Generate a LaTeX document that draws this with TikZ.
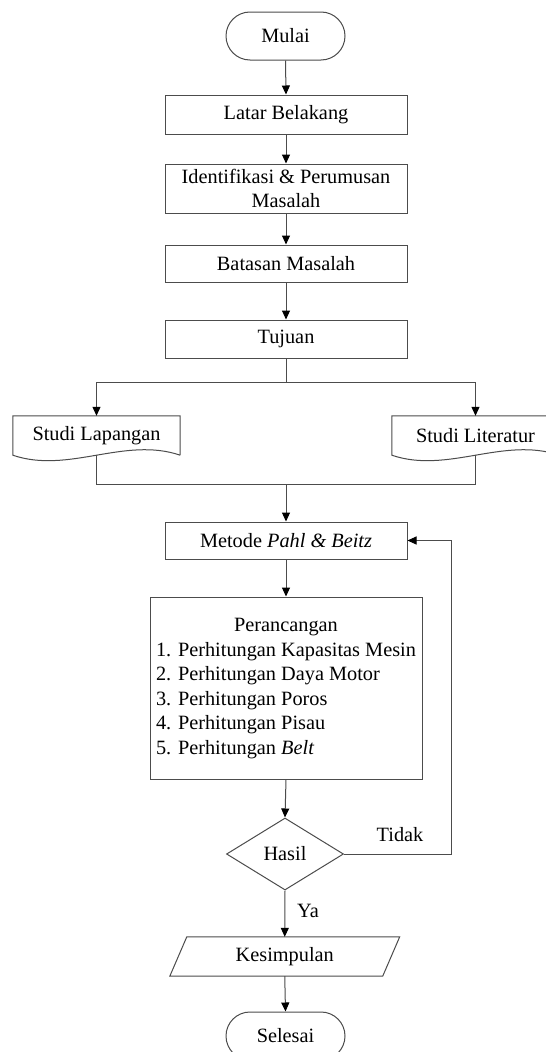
\documentclass[tikz,border=0pt]{standalone}
\usepackage{fontspec}
\setmainfont{Liberation Serif}
\usetikzlibrary{shapes.geometric,shapes.misc,arrows.meta,calc}
\begin{document}
\begin{tikzpicture}[x=1pt,y=-1pt,
  font=\fontsize{20.3}{24.5}\selectfont,
  ln/.style={draw=black!70,line width=1pt},
  arr/.style={ln,-{Triangle[length=9pt,width=8pt,black]}},
  procbox/.style={rectangle,draw=black!70,line width=1pt,minimum width=242pt,inner sep=2pt,align=center},
  term/.style={rounded rectangle,draw=black!70,line width=1pt,minimum width=123pt,minimum height=48pt,inner sep=2pt},
  docnode/.style={rectangle,minimum width=167pt,minimum height=39pt,inner sep=0pt},
  plain/.style={inner sep=0pt}
]
\clip (0,0) rectangle (546,1052);
\fill[white] (0,0) rectangle (546,1052);

\node[term] (mul) at (285.5,36) {Mulai};
\node[procbox,minimum height=39pt] (lat) at (286,114.5) {Latar Belakang};
\node[procbox,minimum height=49pt] (idf) at (286,188.5) {Identifikasi \& Perumusan\\Masalah};
\node[procbox,minimum height=37pt] (bat) at (286,263.5) {Batasan Masalah};
\node[procbox,minimum height=38pt] (tuj) at (286,339) {Tujuan};

\node[docnode] (lap) at (96.5,435.5) {Studi Lapangan};
\node[docnode] (lit) at (475.5,435.5) {Studi Literatur};
\draw[ln] (lap.south east) -- (lap.north east) -- (lap.north west) -- (lap.south west)
  .. controls ($(lap.south west)+(55.7,19)$) and ($(lap.south east)+(-55.7,-19)$) .. (lap.south east);
\draw[ln] (lit.south east) -- (lit.north east) -- (lit.north west) -- (lit.south west)
  .. controls ($(lit.south west)+(55.7,19)$) and ($(lit.south east)+(-55.7,-19)$) .. (lit.south east);

\node[procbox,minimum height=37pt] (met) at (286,540.5) {Metode \textit{Pahl \& Beitz}};
\node[rectangle,draw=black!70,line width=1pt,minimum width=272pt,minimum height=182pt,inner sep=2pt] (per) at (286,688)
  {\begin{tabular}{@{}l@{}}\multicolumn{1}{@{}c@{}}{Perancangan}\\
   1. Perhitungan Kapasitas Mesin\\
   2. Perhitungan Daya Motor\\
   3. Perhitungan Poros\\
   4. Perhitungan Pisau\\
   5. Perhitungan \textit{Belt}\end{tabular}};

\node[diamond,draw=black!70,line width=1pt,minimum width=117pt,minimum height=72pt,inner sep=0pt,aspect=1.6] (has) at (285,854) {Hasil};

\node[rectangle,minimum width=212.5pt,minimum height=39pt,inner sep=0pt] (kes) at (284.75,956.5) {Kesimpulan};
\draw[ln] ($(kes.north west)+(8.5,0)$) -- ($(kes.north east)+(8.5,0)$) -- ($(kes.south east)+(-8.5,0)$) -- ($(kes.south west)+(-8.5,0)$) -- cycle;

\node[term] (sel) at (285.5,1036) {Selesai};

\node[plain] (tdk) at (400,835) {Tidak};
\node[plain] (ya) at (308,911) {Ya};

\coordinate (br) at (286,382);
\coordinate (jn) at (286,484);
\coordinate (fb) at (451,854);

\draw[arr] (mul.south) -- (lat.north);
\draw[arr] (lat.south) -- (idf.north);
\draw[arr] (idf.south) -- (bat.north);
\draw[arr] (bat.south) -- (tuj.north);
\draw[ln] (tuj.south) -- (br);
\draw[arr] (br) -| (lap.north);
\draw[arr] (br) -| (lit.north);
\draw[ln] (lap.south) |- (jn);
\draw[ln] (lit.south) |- (jn);
\draw[arr] (jn) -- (met.north);
\draw[arr] (met.south) -- (per.north);
\draw[arr] (per.south) -- (has.north);
\draw[arr] (has.east) -- (fb) |- (met.east);
\draw[arr] (has.south) -- (kes.north);
\draw[arr] (kes.south) -- (sel.north);
\end{tikzpicture}
\end{document}
